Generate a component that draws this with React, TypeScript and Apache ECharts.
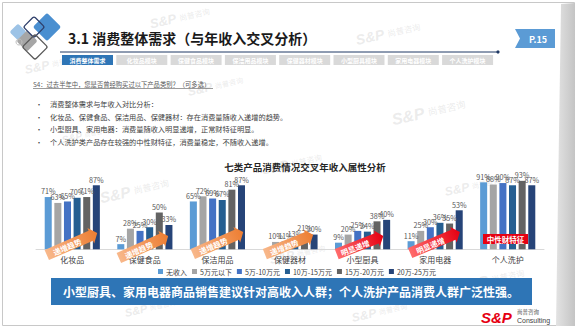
import React, { useEffect, useRef } from 'react';
import * as echarts from 'echarts';

const categories = ['化妆品', '保健食品', '保洁用品', '保健器材', '小型厨具', '家用电器', '个人洗护'];
const seriesNames = ['无收入', '5万元以下', '5万-10万元', '10万-15万元', '15万-20万元', '20万-25万元'];
const noIncome = [71, 7, 65, null, 9, 11, 91];
const under5 = [63, 28, 72, 10, 20, 25, 88];
const from5to10 = [65, 25, 69, 11, 25, 30, 90];
const from10to15 = [70, 30, 67, 13, 24, 36, 87];
const from15to20 = [71, 50, 81, 21, 38, 35, 93];
const from20to25 = [87, 33, 87, 20, 40, 53, 87];
const seriesColors = ['#5b9bd5', '#a5a5a5', '#4472c4', '#255e91', '#636363', '#264478'];

const tabs = ['消费整体需求', '化妆品模块', '保健食品模块', '保洁用品模块', '保健器材模块', '小型厨具模块', '家用电器模块', '个人洗护模块'];
const bullets = [
  '消费整体需求与年收入对比分析：',
  '化妆品、保健食品、保洁用品、保健器材：存在消费量随收入递增的趋势。',
  '小型厨具、家用电器：消费量随收入明显递增，正常财特征明显。',
  '个人洗护类产品存在较强的中性财特征，消费量稳定，不随收入递增。',
];
const FONT = '"Noto Sans CJK SC", "Noto Sans", sans-serif';

function arrow(cx: number, cy: number, len: number, rot: number, c1: string, c2: string, label: string) {
  const th = 11;
  const head = 7;
  const hw = 8.5;
  const L = len / 2;
  return {
    type: 'group', x: cx, y: cy, rotation: rot, z: 20,
    children: [
      {
        type: 'polygon', z: 20,
        shape: { points: [[-L, -th / 2], [L - head, -th / 2], [L - head, -hw], [L, 0], [L - head, hw], [L - head, th / 2], [-L, th / 2]] },
        style: { fill: new echarts.graphic.LinearGradient(0, 0, 1, 0, [{ offset: 0, color: c1 }, { offset: 1, color: c2 }]) },
      },
      {
        type: 'text', z: 21, x: -head / 2 - 2, y: 0.5,
        style: { text: label, fill: '#fff', fontSize: 7.5, fontWeight: 'bold', fontFamily: FONT, align: 'center', verticalAlign: 'middle' },
      },
    ],
  };
}

function diamond(cx: number, cy: number, h: number, fill: string, stroke?: string) {
  return {
    type: 'rect', x: cx, y: cy, rotation: Math.PI / 4, z: 5,
    shape: { x: -h, y: -h, width: 2 * h, height: 2 * h, r: 2 },
    style: stroke ? { fill: 'none', stroke, lineWidth: 1.3 } : { fill },
  };
}

function watermark(x: number, y: number, size: number) {
  const c = 'rgba(190,190,190,0.3)';
  return {
    type: 'group', x, y, rotation: 0.22, z: 30, silent: true,
    children: [
      { type: 'text', x: 0, y: 0, style: { text: 'S&P', fill: c, fontSize: size, fontWeight: 'bold', fontStyle: 'italic', fontFamily: 'Arial, sans-serif', verticalAlign: 'middle' } },
      { type: 'text', x: size * 2.3, y: 0, style: { text: '尚普咨询', fill: c, fontSize: size * 0.6, fontFamily: FONT, verticalAlign: 'middle' } },
    ],
  };
}

export default function App() {
  const ref = useRef<HTMLDivElement>(null);
  useEffect(() => {
    if (!ref.current) return;
    const chart = echarts.init(ref.current, null, { renderer: 'svg' });
    const data = [noIncome, under5, from5to10, from10to15, from15to20, from20to25];

    const graphic: any[] = [];
    // frame
    graphic.push({ type: 'rect', z: 0, shape: { x: 2.5, y: 2.5, width: 572, height: 323 }, style: { fill: '#fff', stroke: '#c8c8c8', lineWidth: 1 } });
    graphic.push({
      type: 'polygon', z: 1,
      shape: { points: [[561, 4], [575, 3], [575, 326], [556, 326]] },
      style: { fill: new echarts.graphic.LinearGradient(0, 0, 1, 0, [{ offset: 0, color: '#e3e3e3' }, { offset: 1, color: '#c4c4c4' }]) },
    });
    // logo
    graphic.push(diamond(18, 32, 6, '#9dc3e6'));
    graphic.push(diamond(27, 41, 7.5, '#a6a6a6'));
    graphic.push(diamond(47, 27, 10, '#4a8fd0'));
    graphic.push(diamond(34, 27, 7.5, '', '#2f3f6b'));
    graphic.push(diamond(35, 47, 9, '', '#595959'));
    graphic.push({ type: 'circle', z: 6, shape: { cx: 19, cy: 42, r: 3 }, style: { fill: 'none', stroke: '#bfbfbf', lineWidth: 1 } });
    // title
    graphic.push({ type: 'text', z: 10, x: 68, y: 38, style: { text: '3.1 消费整体需求（与年收入交叉分析）', fill: '#1a1a1a', fontSize: 14, fontWeight: 'bold', fontFamily: FONT, verticalAlign: 'middle' } });
    graphic.push({ type: 'line', z: 10, shape: { x1: 60, y1: 52, x2: 498, y2: 52 }, style: { stroke: '#1f3864', lineWidth: 1 } });
    graphic.push({ type: 'circle', z: 10, shape: { cx: 498, cy: 52, r: 1.6 }, style: { fill: '#1f3864' } });
    // P.15 tag
    graphic.push({ type: 'polygon', z: 10, shape: { points: [[515, 29], [555, 29], [555, 48], [515, 48], [520, 38.5]] }, style: { fill: '#5b9bd5' } });
    graphic.push({ type: 'text', z: 11, x: 538, y: 39, style: { text: 'P.15', fill: '#fff', fontSize: 9, fontWeight: 'bold', fontFamily: FONT, align: 'center', verticalAlign: 'middle' } });
    // tabs
    tabs.forEach((t, i) => {
      const x = 62 + i * 54.3;
      graphic.push({ type: 'rect', z: 10, shape: { x, y: 55, width: 51, height: 10 }, style: { fill: i === 0 ? '#2e75b6' : '#d9d9d9' } });
      graphic.push({ type: 'text', z: 11, x: x + 25.5, y: 60, style: { text: t, fill: '#fff', fontSize: 6, fontWeight: 'bold', fontFamily: FONT, align: 'center', verticalAlign: 'middle' } });
    });
    // question
    graphic.push({ type: 'text', z: 10, x: 33, y: 84, style: { text: 'S4：过去半年中，您是否曾经购买过以下产品类别？（可多选）', fill: '#595959', fontSize: 6.3, fontFamily: FONT, verticalAlign: 'middle' } });
    graphic.push({ type: 'line', z: 10, shape: { x1: 33, y1: 88.5, x2: 213, y2: 88.5 }, style: { stroke: '#595959', lineWidth: 0.6 } });
    // bullets
    bullets.forEach((b, i) => {
      const y = 104 + i * 12.7;
      graphic.push({ type: 'text', z: 10, x: 39, y, style: { text: '•', fill: '#404040', fontSize: 7, fontFamily: FONT, align: 'center', verticalAlign: 'middle' } });
      graphic.push({ type: 'text', z: 10, x: 50, y, style: { text: b, fill: '#404040', fontSize: 7.2, fontFamily: FONT, verticalAlign: 'middle' } });
    });
    // arrows
    graphic.push(arrow(72, 244, 55, 0.41, '#f8b88b', '#ed7d31', '递增趋势'));
    graphic.push(arrow(143.5, 247, 54, 0.42, '#f8b88b', '#ed7d31', '递增趋势'));
    graphic.push(arrow(218, 243, 55, 0.41, '#f8b88b', '#ed7d31', '递增趋势'));
    graphic.push(arrow(289, 244.5, 52, 0.38, '#f8b88b', '#ed7d31', '递增趋势'));
    graphic.push(arrow(360, 245, 50, 0.37, '#ff6b6b', '#e60012', '明显递增'));
    graphic.push(arrow(435, 242.5, 54, 0.40, '#ff6b6b', '#e60012', '明显递增'));
    graphic.push({ type: 'rect', z: 20, shape: { x: 483, y: 234, width: 45, height: 10 }, style: { fill: '#e60012' } });
    graphic.push({ type: 'text', z: 21, x: 505.5, y: 239.5, style: { text: '中性财特征', fill: '#fff', fontSize: 7.5, fontWeight: 'bold', fontFamily: FONT, align: 'center', verticalAlign: 'middle' } });
    // banner
    graphic.push({ type: 'rect', z: 10, shape: { x: 51, y: 278, width: 481, height: 27 }, style: { fill: '#2e75b6' } });
    graphic.push({ type: 'text', z: 11, x: 291, y: 291.5, style: { text: '小型厨具、家用电器商品销售建议针对高收入人群；个人洗护产品消费人群广泛性强。', fill: '#fff', fontSize: 12, fontWeight: 'bold', fontFamily: FONT, align: 'center', verticalAlign: 'middle' } });
    // bottom logo
    graphic.push({ type: 'text', z: 11, x: 481, y: 317, style: { text: 'S&P', fill: '#e60012', fontSize: 15, fontWeight: 'bold', fontStyle: 'italic', fontFamily: 'Arial, sans-serif', verticalAlign: 'middle' } });
    graphic.push({ type: 'text', z: 11, x: 517, y: 312, style: { text: '尚普咨询', fill: '#595959', fontSize: 5.5, fontFamily: FONT, verticalAlign: 'middle' } });
    graphic.push({ type: 'text', z: 11, x: 517, y: 320, style: { text: 'Consulting', fill: '#404040', fontSize: 7, fontFamily: 'Arial, sans-serif', verticalAlign: 'middle' } });
    // watermarks
    graphic.push(watermark(150, 24, 13));
    graphic.push(watermark(356, 40, 14));
    graphic.push(watermark(25, 70, 12));
    graphic.push(watermark(188, 92, 12));
    graphic.push(watermark(392, 120, 16));
    graphic.push(watermark(62, 140, 10));
    graphic.push(watermark(100, 198, 15));
    graphic.push(watermark(262, 170, 13));
    graphic.push(watermark(270, 260, 12));
    graphic.push(watermark(460, 286, 14));
    graphic.push(watermark(125, 313, 11));
    graphic.push(watermark(352, 318, 12));
    graphic.push(watermark(445, 192, 12));

    chart.setOption({
      animation: false,
      backgroundColor: 'transparent',
      textStyle: { fontFamily: FONT },
      title: {
        text: '七类产品消费情况交叉年收入属性分析',
        left: 300, top: 157, textAlign: 'center',
        textStyle: { fontSize: 9.5, fontWeight: 'bold', color: '#262626', fontFamily: FONT },
      },
      legend: {
        data: seriesNames,
        left: 153, top: 263,
        itemWidth: 5, itemHeight: 5, itemGap: 5,
        icon: 'rect',
        textStyle: { fontSize: 7, color: '#404040', fontFamily: FONT, padding: [0, 0, 0, -2] },
      },
      grid: { left: 36, top: 175.7, width: 508, height: 73.6, containLabel: false },
      xAxis: {
        type: 'category', data: categories,
        axisLine: { lineStyle: { color: '#d9d9d9' } },
        axisTick: { show: false },
        axisLabel: { fontSize: 8, color: '#404040', margin: 6, fontFamily: FONT },
      },
      yAxis: { type: 'value', min: 0, max: 100, show: false, splitLine: { show: false } },
      graphic: { elements: graphic },
      series: seriesNames.map((name, i) => ({
        name, type: 'bar', data: data[i], z: 5,
        barGap: '37%', barCategoryGap: '24%',
        itemStyle: { color: seriesColors[i] },
        label: { show: true, position: 'top', distance: 2, formatter: '{c}%', fontSize: 7.2, color: '#595959', fontFamily: FONT },
      })),
    });
    return () => chart.dispose();
  }, []);
  return <div ref={ref} style={{ position: 'fixed', left: 0, top: 0, width: 579, height: 329, background: '#fff' }} />;
}
